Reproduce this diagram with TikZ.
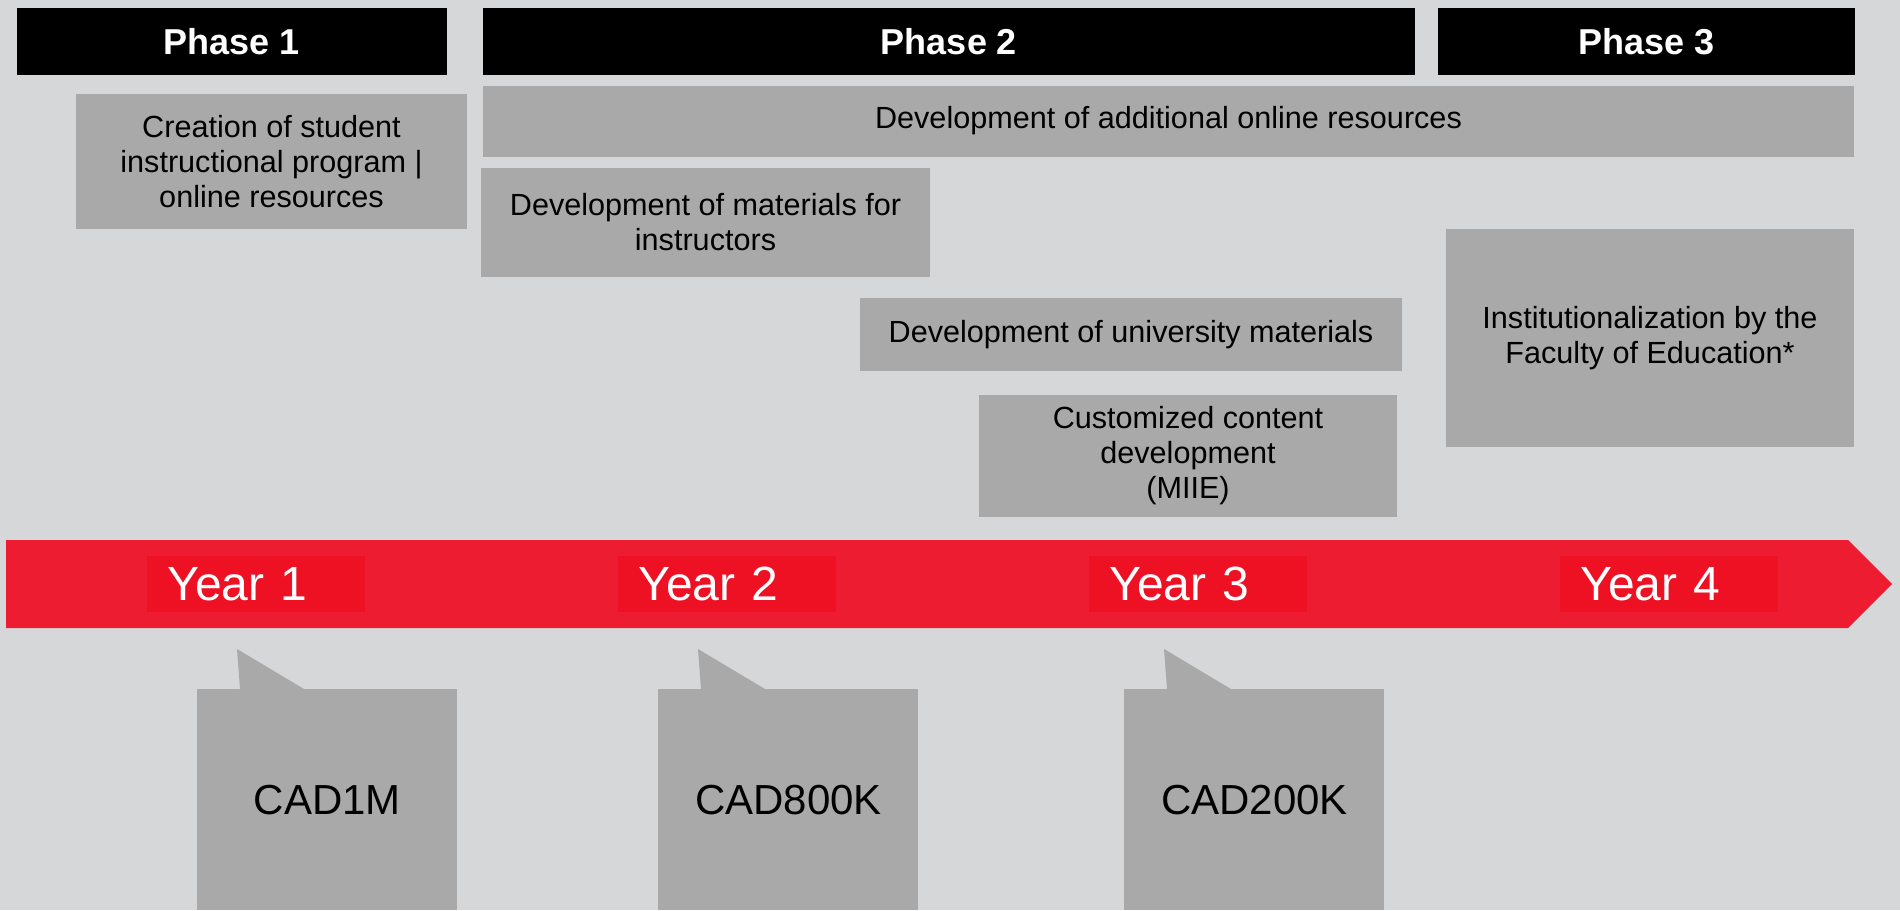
\documentclass[tikz,border=0pt]{standalone}
\usepackage{fontspec}
\setmainfont{Liberation Sans}
\definecolor{bggrey}{HTML}{D6D7D9}
\definecolor{taskgrey}{HTML}{A9A9A9}
\definecolor{arrowred}{HTML}{ED1C30}
\definecolor{yearred}{HTML}{EE1124}

\begin{document}
\begin{tikzpicture}
  [x=0.5pt,y=-0.5pt,
   phase/.style={fill=black,text=white,font=\fontsize{18}{22}\selectfont\bfseries,minimum height=33.5pt,inner sep=0pt},
   task/.style={fill=taskgrey,align=center,font=\fontsize{15.3}{17.5}\selectfont,inner sep=0pt},
   year/.style={fill=yearred,text=white,font=\fontsize{24}{28}\selectfont,anchor=west,text width=89pt,inner xsep=10pt,minimum height=28pt,align=left},
   fund/.style={fill=taskgrey,font=\fontsize{21}{25}\selectfont,anchor=north west,minimum width=130pt,minimum height=110.5pt}]
  \useasboundingbox (0,0) rectangle (1900,910);
  \fill[bggrey] (0,0) rectangle (1900,910);

  \node[phase,minimum width=215pt] (p1) at (232,41.5) {Phase 1};
  \node[phase,minimum width=466pt] (p2) at (949,41.5) {Phase 2};
  \node[phase,minimum width=208.5pt] (p3) at (1646.5,41.5) {Phase 3};

  \node[task,minimum width=195.5pt,minimum height=67.5pt] (student) at (271.5,161.5)
    {Creation of student\\instructional program |\\online resources};
  \node[task,minimum width=685.5pt,minimum height=35.5pt] (online) at (1168.5,121)
    {Development of additional online resources};
  \node[task,minimum width=224.5pt,minimum height=54.5pt] (instr) at (705.5,222.5)
    {Development of materials for\\instructors};
  \node[task,minimum width=271pt,minimum height=36.5pt] (univ) at (1131,334.5)
    {Development of university materials};
  \node[task,minimum width=209pt,minimum height=61pt] (miie) at (1188,456)
    {Customized content\\development\\(MIIE)};
  \node[task,minimum width=204pt,minimum height=109pt] (inst) at (1650,338)
    {Institutionalization by the\\Faculty of Education*};

  % timeline
  \fill[arrowred] (6,540) -- (1848,540) -- (1892,584) -- (1848,628) -- (6,628) -- cycle;
  \foreach \i in {1,...,4}
    \node[year] (y\i) at ({147+471*(\i-1)},584) {Year \i};

  % funding
  \foreach \x/\amt in {197/CAD1M,658/CAD800K,1124/CAD200K}{
    \fill[taskgrey] (\x+43,689) -- (\x+40,649) -- (\x+107,689) -- cycle;
    \node[fund] (\amt) at (\x,689) {\amt};
  }
\end{tikzpicture}
\end{document}
